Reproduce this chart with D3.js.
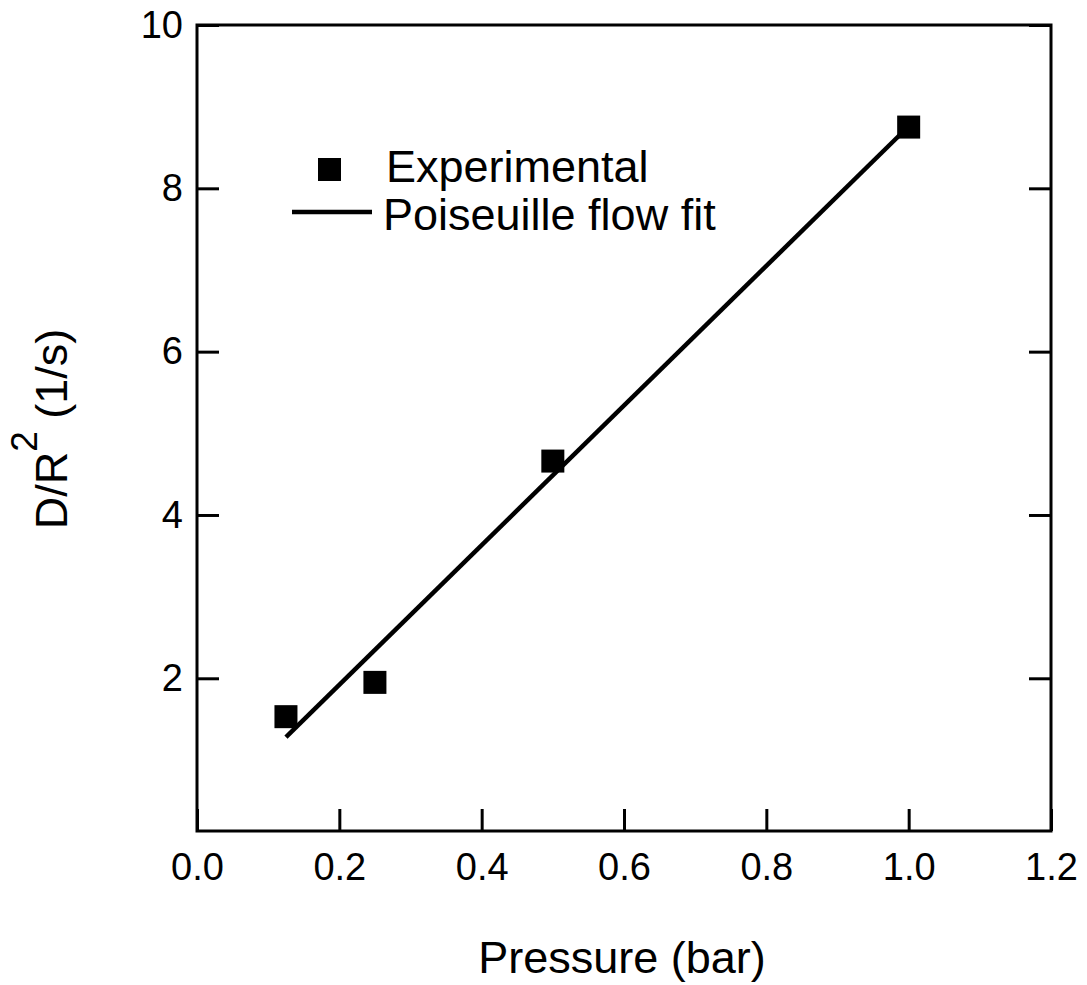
<!DOCTYPE html>
<html>
<head>
<meta charset="utf-8">
<script src="https://cdn.jsdelivr.net/npm/d3@7"></script>
<style>
  body { margin: 0; background: #fff; }
  text { font-family: "Liberation Sans", Arial, sans-serif; fill: #000; }
</style>
</head>
<body>
<svg id="chart" width="1087" height="985"></svg>
<script>
// data
var pressure = [0.125, 0.25, 0.5, 1.0];
var diffusion = [1.53, 1.95, 4.66, 8.75];
var fitX = [0.125, 1.0];
var fitY = [1.28, 8.76];
var xTicks = [0.0, 0.2, 0.4, 0.6, 0.8, 1.0, 1.2];
var yTicks = [2, 4, 6, 8, 10];

var svg = d3.select("#chart"),
    margin = {top: 25, right: 36, bottom: 154, left: 197},
    width = +svg.attr("width") - margin.left - margin.right,
    height = +svg.attr("height") - margin.top - margin.bottom;

var x = d3.scaleLinear().domain([0, 1.2]).range([0, width]),
    y = d3.scaleLinear().domain([0.13, 10]).range([height, 0]);

var g = svg.append("g")
    .attr("transform", "translate(" + margin.left + "," + margin.top + ")");

// frame
g.append("rect")
    .attr("width", width)
    .attr("height", height)
    .attr("fill", "none")
    .attr("stroke", "#000")
    .attr("stroke-width", 3);

// bottom axis, ticks pointing in
var xAxis = g.append("g")
    .attr("transform", "translate(0," + height + ")")
    .call(d3.axisBottom(x).tickValues(xTicks).tickFormat(d3.format(".1f"))
      .tickSizeInner(-22).tickSizeOuter(0).tickPadding(22));

// left axis
var yAxis = g.append("g")
    .call(d3.axisLeft(y).tickValues(yTicks).tickFormat(d3.format("d"))
      .tickSizeInner(-22).tickSizeOuter(0).tickPadding(14));

// right axis ticks only
var yRight = g.append("g")
    .attr("transform", "translate(" + width + ",0)")
    .call(d3.axisRight(y).tickValues(yTicks).tickFormat("")
      .tickSizeInner(-22).tickSizeOuter(0));

[xAxis, yAxis, yRight].forEach(function(a) {
  a.select(".domain").remove();
  a.selectAll("line").attr("stroke", "#000").attr("stroke-width", 3);
  a.selectAll("text")
      .attr("font-family", "Liberation Sans, Arial, sans-serif")
      .attr("font-size", 38)
      .attr("fill", "#000");
});

// fit line
var line = d3.line()
    .x(function(d, i) { return x(fitX[i]); })
    .y(function(d, i) { return y(fitY[i]); });

g.append("path")
    .datum(fitX)
    .attr("d", line)
    .attr("fill", "none")
    .attr("stroke", "#000")
    .attr("stroke-width", 4.5);

// experimental points
var s = 23;
g.selectAll(".pt")
  .data(pressure)
  .enter().append("rect")
    .attr("class", "pt")
    .attr("x", function(d) { return x(d) - s / 2; })
    .attr("y", function(d, i) { return y(diffusion[i]) - s / 2; })
    .attr("width", s)
    .attr("height", s)
    .attr("fill", "#000");

// legend
var leg = svg.append("g");
leg.append("rect")
    .attr("x", 318).attr("y", 158)
    .attr("width", s).attr("height", s)
    .attr("fill", "#000");
leg.append("text")
    .attr("x", 386).attr("y", 182)
    .attr("font-size", 45)
    .text("Experimental");
leg.append("line")
    .attr("x1", 292).attr("x2", 372)
    .attr("y1", 212).attr("y2", 212)
    .attr("stroke", "#000")
    .attr("stroke-width", 4.5);
leg.append("text")
    .attr("x", 383).attr("y", 230)
    .attr("font-size", 45)
    .text("Poiseuille flow fit");

// axis titles
svg.append("text")
    .attr("x", 622)
    .attr("y", 973)
    .attr("text-anchor", "middle")
    .attr("font-size", 45)
    .text("Pressure (bar)");

var yt = svg.append("text")
    .attr("transform", "translate(67," + 429 + ") rotate(-90)")
    .attr("text-anchor", "middle")
    .attr("font-size", 45);
yt.append("tspan").text("D/R");
yt.append("tspan").attr("dy", -30).attr("font-size", 37).text("2");
yt.append("tspan").attr("dy", 30).text(" (1/s)");
</script>
</body>
</html>
